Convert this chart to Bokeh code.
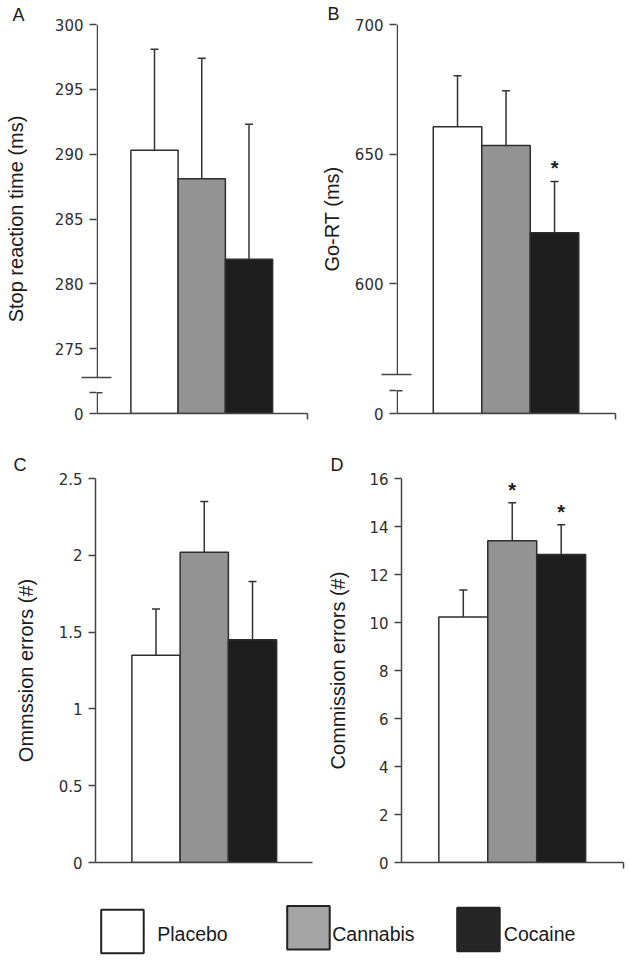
from bokeh.plotting import figure
from bokeh.models import Range1d, FixedTicker, Label, Whisker, ColumnDataSource, TeeHead
from bokeh.layouts import column, row
from bokeh.embed import file_html
from bokeh.resources import INLINE
from bokeh.core.properties import value

# ---------------- data ----------------
categories = ["Placebo", "Cannabis", "Cocaine"]

ssrt_mean = [290.3, 288.1, 281.9]
ssrt_err = [7.8, 9.3, 10.4]
ssrt_ticks = [270, 275, 280, 285, 290, 295, 300]
ssrt_tick_labels = ["0", "275", "280", "285", "290", "295", "300"]

gort_mean = [660.6, 653.3, 619.7]
gort_err = [19.6, 21.2, 19.8]
gort_sig = [False, False, True]
gort_ticks = [550, 600, 650, 700]
gort_tick_labels = ["0", "600", "650", "700"]

omission_mean = [1.35, 2.02, 1.45]
omission_err = [0.30, 0.33, 0.38]
omission_ticks = [0.0, 0.5, 1.0, 1.5, 2.0, 2.5]
omission_tick_labels = ["0", "0.5", "1", "1.5", "2", "2.5"]

commission_mean = [10.23, 13.41, 12.83]
commission_err = [1.12, 1.58, 1.24]
commission_sig = [False, True, True]
commission_ticks = [0, 2, 4, 6, 8, 10, 12, 14, 16]
commission_tick_labels = ["0", "2", "4", "6", "8", "10", "12", "14", "16"]

# ---------------- styles ----------------
bar_colors = ["#ffffff", "#939393", "#1e1e1e"]
legend_colors = ["#ffffff", "#a5a5a5", "#262626"]
AXIS = "#444444"
EDGE = "#2e2e2e"
TICK_FONT = "DejaVu Sans"
TITLE_FONT = "Liberation Sans"


def panel(letter, ylabel, means, errs, sig, yr, ticks, labels, xr, W, H,
          borders, letter_dx, letter_standoff, title_standoff, brk=None, end_tick=True):
    l, r, t, b = borders
    fw = W - l - r
    y0, y1 = yr
    x0, x1 = xr
    dpx = (x1 - x0) / fw
    p = figure(width=W, height=H, x_range=Range1d(x0, x1), y_range=Range1d(y0, y1),
               output_backend="svg", toolbar_location=None,
               min_border_left=l, min_border_right=r, min_border_top=t, min_border_bottom=b)
    p.grid.visible = False
    p.outline_line_color = None
    p.background_fill_color = "white"

    # panel letter as the plot title
    p.title.text = letter
    p.title.align = "left"
    p.title.offset = letter_dx
    p.title.standoff = letter_standoff
    p.title.vertical_align = "top"
    p.title.text_font = TITLE_FONT
    p.title.text_font_size = "18px"
    p.title.text_font_style = "normal"
    p.title.text_color = "#1a1a1a"

    xs = [i + 1 for i in range(len(means))]
    src = ColumnDataSource(dict(x=xs, top=means, upper=[m + e for m, e in zip(means, errs)],
                                color=bar_colors, cat=categories))
    p.vbar(x="x", top="top", bottom=y0, width=1.0, fill_color="color",
           line_color=EDGE, line_width=1.5, source=src)
    wh = Whisker(source=src, base="x", lower="top", upper="upper", dimension="height",
                 line_color="#333333", line_width=1.5, lower_head=None,
                 upper_head=TeeHead(size=8, line_color="#333333", line_width=1.5))
    p.add_layout(wh)

    # significance asterisks
    if sig is not None:
        for xi, up, s in zip(xs, src.data["upper"], sig):
            if s:
                p.add_layout(Label(x=xi, y=up, y_offset=13, text="*", text_align="center",
                                   text_baseline="alphabetic", text_font=TITLE_FONT,
                                   text_font_style="bold", text_font_size="20px",
                                   text_color="#1a1a1a"))

    # y axis
    ya = p.yaxis[0]
    all_ticks = list(ticks)
    overrides = {float(tk): lb for tk, lb in zip(ticks, labels)}
    minor = []
    if brk is not None:
        lo, hi = brk
        all_ticks.append(lo)
        overrides[float(lo)] = ""
        minor = [hi]
    ya.ticker = FixedTicker(ticks=all_ticks, minor_ticks=minor)
    ya.major_label_overrides = overrides
    ya.major_tick_out = 7
    ya.major_tick_in = 0
    ya.major_tick_line_color = AXIS
    ya.major_tick_line_width = 1.5
    ya.minor_tick_line_color = AXIS
    ya.minor_tick_line_width = 1.5
    if brk is not None:
        ya.minor_tick_out = 15
        ya.minor_tick_in = 15
        ya.major_label_standoff = -2
    else:
        ya.minor_tick_out = 0
        ya.minor_tick_in = 0
        ya.major_label_standoff = 6
    ya.major_label_text_font = TICK_FONT
    ya.major_label_text_font_size = "15px"
    ya.major_label_text_color = "#2e2e2e"
    ya.axis_label = ylabel
    ya.axis_label_standoff = title_standoff
    ya.axis_label_text_font = TITLE_FONT
    ya.axis_label_text_font_size = "20px"
    ya.axis_label_text_font_style = "normal"
    ya.axis_label_text_color = "#1a1a1a"
    if brk is None:
        ya.axis_line_color = AXIS
        ya.axis_line_width = 1.5
    else:
        ya.axis_line_color = None
        lo, hi = brk
        xa = x0 + 0.75 * dpx
        p.segment(x0=[xa, xa], y0=[y0, hi], x1=[xa, xa], y1=[lo, y1],
                  line_color=AXIS, line_width=1.5)
        p.segment(x0=[x0], y0=[lo], x1=[x0 + 6 * dpx], y1=[lo],
                  line_color=AXIS, line_width=1.5)

    # x axis
    xa_ = p.xaxis[0]
    xt = [x1 - 1e-6] if end_tick else []
    xa_.ticker = FixedTicker(ticks=xt, minor_ticks=[])
    xa_.major_label_overrides = {float(v): "" for v in xt}
    xa_.major_label_text_font_size = "0px"
    xa_.major_label_standoff = 0
    xa_.major_tick_out = 6
    xa_.major_tick_in = 0
    xa_.minor_tick_out = 0
    xa_.major_tick_line_color = AXIS
    xa_.major_tick_line_width = 1.5
    xa_.axis_line_color = AXIS
    xa_.axis_line_width = 1.5
    return p


pA = panel("A", "Stop reaction time (ms)", ssrt_mean, ssrt_err, None, (270, 300),
           ssrt_ticks, ssrt_tick_labels, (-0.2275, 4.238), 314, 428, (96, 7, 24, 11),
           -84, -4, 25, brk=(271.6, 272.75))
pB = panel("B", "Go-RT (ms)", gort_mean, gort_err, gort_sig, (550, 700),
           gort_ticks, gort_tick_labels, (-0.258, 4.257), 314, 428, (82, 13, 21, 15),
           -69, -3, 9, brk=(558.8, 564.9))
pC = panel("C", "Ommssion errors (#)", omission_mean, omission_err, None, (0, 2.5),
           omission_ticks, omission_tick_labels, (-0.254, 4.243), 314, 452, (95, 2, 49, 18),
           -82, 3, 19, end_tick=False)
pD = panel("D", "Commission errors (#)", commission_mean, commission_err, commission_sig, (0, 16),
           commission_ticks, commission_tick_labels, (-0.2625, 4.273), 314, 452, (87, 5, 50, 13),
           -71, 4, 17)

# ---------------- legend strip ----------------
LW, LH = 628, 78
pL = figure(width=LW, height=LH, x_range=Range1d(0, LW), y_range=Range1d(0, LH),
            output_backend="svg", toolbar_location=None, min_border=0)
pL.axis.visible = False
pL.grid.visible = False
pL.outline_line_color = None
sw_left = [100.7, 286.7, 456.7]
sw_bottom = [5.3, 9.0, 7.3]
txt_left = [156.7, 331.7, 503.3]
sw_w, sw_h = 42.5, 43.5
leg = ColumnDataSource(dict(left=sw_left, right=[v + sw_w for v in sw_left],
                            bottom=sw_bottom, top=[v + sw_h for v in sw_bottom],
                            color=legend_colors, tx=txt_left, ty=[25, 25, 25], label=categories))
pL.quad(left="left", right="right", bottom="bottom", top="top", fill_color="color",
        line_color="#222222", line_width=2, source=leg)
pL.text(x="tx", y="ty", text="label", source=leg, text_baseline="middle", text_align="left",
        text_font=value(TITLE_FONT), text_font_size="19.5px", text_color="#1a1a1a")

layout = column(row(pA, pB), row(pC, pD), pL)
open("out.html", "w").write(file_html(layout, INLINE))
